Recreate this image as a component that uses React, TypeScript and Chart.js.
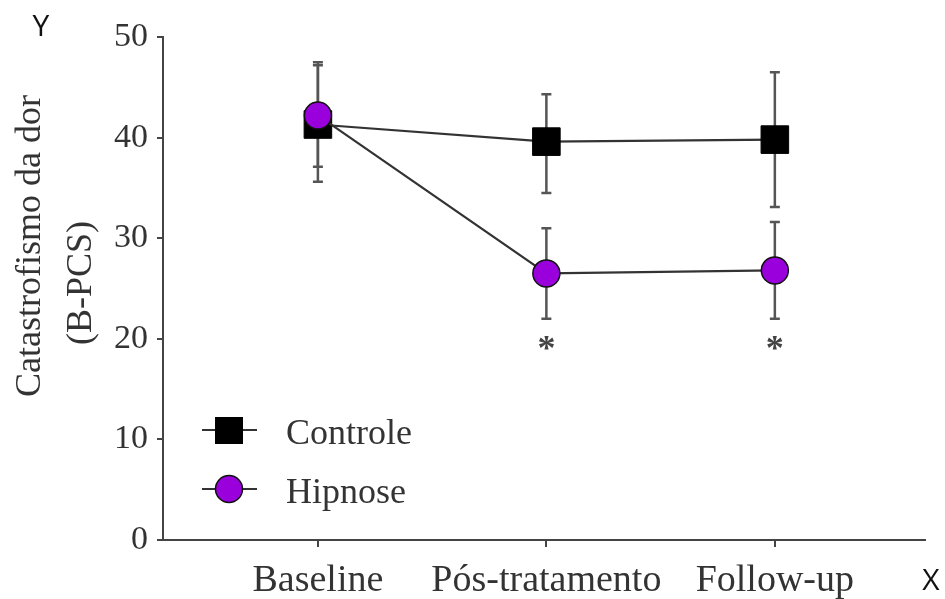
import React, { useEffect, useRef } from 'react';
import { Chart, registerables } from 'chart.js';

Chart.register(...registerables);

const categories = ['Baseline', 'Pós-tratamento', 'Follow-up'];
const controleMean = [41.3, 39.6, 39.8];
const controleLow = [35.6, 34.5, 33.1];
const controleHigh = [47.2, 44.3, 46.5];
const hipnoseMean = [42.2, 26.5, 26.8];
const hipnoseLow = [37.1, 22.0, 22.0];
const hipnoseHigh = [47.5, 31.0, 31.6];
const significant = [false, true, true];
const yTicks = [0, 10, 20, 30, 40, 50];
const yTitle = ['Catastrofismo da dor', '(B-PCS)'];
const seriesNames = ['Controle', 'Hipnose'];

const PURPLE = '#9a00dc';
const TEXT = '#333333';
const AXIS = '#444444';
const SERIF = "'Liberation Serif', 'Times New Roman', serif";
const SANS = "'Open Sans', 'DejaVu Sans', sans-serif";

const errorBarPlugin = {
  id: 'errorBars',
  beforeDatasetsDraw(chart: any) {
    const { ctx } = chart;
    const xs = chart.scales.x;
    const ys = chart.scales.y;
    const groups = [
      [controleLow, controleHigh],
      [hipnoseLow, hipnoseHigh],
    ];
    ctx.save();
    ctx.strokeStyle = '#555555';
    ctx.lineWidth = 2.5;
    groups.forEach(([lo, hi]) => {
      lo.forEach((l, i) => {
        const px = xs.getPixelForValue(i);
        const pl = ys.getPixelForValue(l);
        const ph = ys.getPixelForValue(hi[i]);
        ctx.beginPath();
        ctx.moveTo(px, pl);
        ctx.lineTo(px, ph);
        ctx.moveTo(px - 5, pl);
        ctx.lineTo(px + 5, pl);
        ctx.moveTo(px - 5, ph);
        ctx.lineTo(px + 5, ph);
        ctx.stroke();
      });
    });
    ctx.restore();
  },
  afterDatasetsDraw(chart: any) {
    const { ctx } = chart;
    const xs = chart.scales.x;
    const ys = chart.scales.y;
    ctx.save();
    ctx.fillStyle = '#444444';
    ctx.font = `bold 36px ${SERIF}`;
    ctx.textAlign = 'center';
    ctx.textBaseline = 'alphabetic';
    significant.forEach((s, i) => {
      if (!s) return;
      const px = xs.getPixelForValue(i);
      const py = ys.getPixelForValue(hipnoseLow[i]);
      ctx.fillText('*', px, py + 41);
    });
    ctx.restore();
  },
};

const decorPlugin = {
  id: 'decor',
  afterDraw(chart: any) {
    const { ctx } = chart;
    ctx.save();
    // Y axis title (two rotated lines)
    ctx.fillStyle = TEXT;
    ctx.font = `36px ${SERIF}`;
    ctx.textAlign = 'center';
    ctx.textBaseline = 'alphabetic';
    const lines: [string, number, number][] = [
      [yTitle[0], 40, 246],
      [yTitle[1], 91, 283],
    ];
    lines.forEach(([t, bx, cy]) => {
      ctx.save();
      ctx.translate(bx, cy);
      ctx.rotate(-Math.PI / 2);
      ctx.fillText(t, 0, 0);
      ctx.restore();
    });

    // Legend
    const items = [
      { name: seriesNames[0], y: 430, tb: 444, kind: 'rect' },
      { name: seriesNames[1], y: 489, tb: 503, kind: 'circle' },
    ];
    items.forEach((it) => {
      ctx.strokeStyle = '#333333';
      ctx.lineWidth = 2;
      ctx.beginPath();
      ctx.moveTo(202, it.y);
      ctx.lineTo(257, it.y);
      ctx.stroke();
      if (it.kind === 'rect') {
        ctx.fillStyle = '#000000';
        ctx.fillRect(229 - 14, it.y - 13, 28, 27);
      } else {
        ctx.beginPath();
        ctx.arc(229, it.y, 13.5, 0, Math.PI * 2);
        ctx.fillStyle = PURPLE;
        ctx.fill();
        ctx.lineWidth = 1.5;
        ctx.strokeStyle = '#111111';
        ctx.stroke();
      }
      ctx.fillStyle = TEXT;
      ctx.font = `36px ${SERIF}`;
      ctx.textAlign = 'left';
      ctx.textBaseline = 'alphabetic';
      ctx.fillText(it.name, 286, it.tb);
    });

    // Corner axis letters
    ctx.fillStyle = '#111111';
    ctx.font = `30px ${SANS}`;
    ctx.textAlign = 'center';
    ctx.textBaseline = 'middle';
    ctx.fillText('Y', 41, 27);
    ctx.fillText('X', 931, 581);
    ctx.restore();
  },
};

export default function App() {
  const ref = useRef<HTMLCanvasElement | null>(null);

  useEffect(() => {
    const canvas = ref.current;
    if (!canvas) return;
    const toPts = (arr: number[]) => arr.map((v, i) => ({ x: i, y: v }));
    const chart = new Chart(canvas, {
      type: 'line',
      data: {
        datasets: [
          {
            label: seriesNames[0],
            data: toPts(controleMean),
            borderColor: '#333333',
            borderWidth: 2.2,
            pointStyle: 'rect',
            pointRadius: 19.5,
            pointHoverRadius: 19.5,
            pointBackgroundColor: '#000000',
            pointBorderColor: '#000000',
            pointBorderWidth: 1,
            order: 2,
          },
          {
            label: seriesNames[1],
            data: toPts(hipnoseMean),
            borderColor: '#333333',
            borderWidth: 2.2,
            pointStyle: 'circle',
            pointRadius: 13.5,
            pointHoverRadius: 13.5,
            pointBackgroundColor: PURPLE,
            pointBorderColor: '#111111',
            pointBorderWidth: 1.5,
            order: 1,
          },
        ],
      },
      options: {
        animation: false,
        responsive: false,
        devicePixelRatio: 1,
        layout: { padding: { top: 37, right: 20, left: 0, bottom: 0 } },
        plugins: {
          legend: { display: false },
          tooltip: { enabled: false },
          title: { display: false },
        },
        scales: {
          x: {
            type: 'linear',
            min: -0.678,
            max: 2.655,
            afterBuildTicks: (scale: any) => {
              scale.ticks = categories.map((_, i) => ({ value: i }));
            },
            afterFit: (scale: any) => {
              scale.height = 59;
            },
            grid: {
              display: true,
              drawOnChartArea: false,
              drawTicks: true,
              tickLength: 7,
              color: AXIS,
              lineWidth: 2,
            },
            border: { display: true, color: AXIS, width: 2 },
            ticks: {
              autoSkip: false,
              maxRotation: 0,
              padding: 11,
              color: TEXT,
              font: { family: SERIF, size: 38 },
              callback: (v: any) => categories[v as number] ?? '',
            },
          },
          y: {
            type: 'linear',
            min: 0,
            max: 50,
            afterBuildTicks: (scale: any) => {
              scale.ticks = yTicks.map((v) => ({ value: v }));
            },
            afterFit: (scale: any) => {
              scale.width = 163;
            },
            grid: {
              display: true,
              drawOnChartArea: false,
              drawTicks: true,
              tickLength: 6,
              color: AXIS,
              lineWidth: 2,
            },
            border: { display: true, color: AXIS, width: 2 },
            ticks: {
              padding: 9,
              color: TEXT,
              font: { family: SERIF, size: 34 },
            },
          },
        },
      },
      plugins: [errorBarPlugin, decorPlugin],
    });
    return () => chart.destroy();
  }, []);

  return (
    <div style={{ position: 'absolute', left: 0, top: 0, width: 945, height: 599, background: '#ffffff' }}>
      <canvas ref={ref} width={945} height={599} style={{ display: 'block' }} />
    </div>
  );
}
